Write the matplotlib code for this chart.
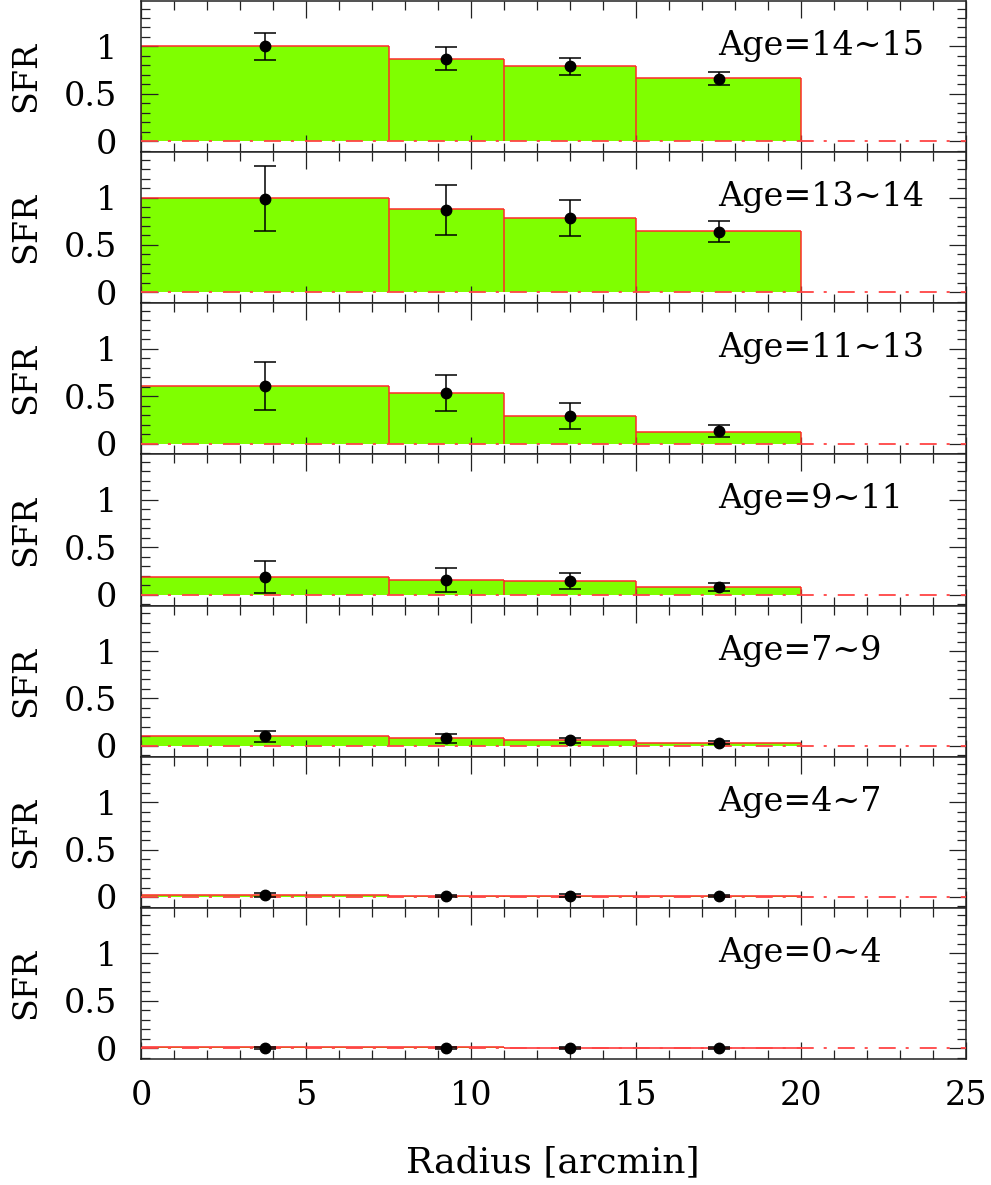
from __future__ import annotations

import matplotlib

matplotlib.use("Agg")

import matplotlib.pyplot as plt
import numpy as np
from matplotlib.ticker import FuncFormatter, MultipleLocator

# radial bins (arcmin) and their centres
bin_edges = [0.0, 7.5, 11.0, 15.0, 20.0]
radius_mid = [3.75, 9.25, 13.0, 17.5]

age_labels = ["Age=14~15", "Age=13~14", "Age=11~13", "Age=9~11", "Age=7~9", "Age=4~7", "Age=0~4"]

# model SFR per bin (histogram heights), one row per age slice
sfr_model = [
    [1.00, 0.87, 0.79, 0.665],
    [1.00, 0.875, 0.78, 0.645],
    [0.605, 0.53, 0.29, 0.125],
    [0.19, 0.155, 0.14, 0.08],
    [0.10, 0.08, 0.064, 0.03],
    [0.02, 0.008, 0.008, 0.006],
    [0.015, 0.01, 0.002, 0.001],
]

# measured SFR and 1-sigma errors
sfr_obs = [
    [1.00, 0.87, 0.79, 0.66],
    [0.99, 0.87, 0.78, 0.64],
    [0.61, 0.53, 0.29, 0.135],
    [0.19, 0.155, 0.14, 0.08],
    [0.10, 0.08, 0.057, 0.035],
    [0.025, 0.01, 0.012, 0.008],
    [0.005, 0.005, 0.005, 0.003],
]
sfr_err = [
    [0.14, 0.12, 0.09, 0.065],
    [0.34, 0.26, 0.19, 0.11],
    [0.255, 0.19, 0.135, 0.065],
    [0.17, 0.125, 0.085, 0.04],
    [0.055, 0.045, 0.03, 0.015],
    [0.02, 0.015, 0.015, 0.012],
    [0.012, 0.012, 0.012, 0.012],
]

FILL = "#7fff00"
EDGE = "#ff2a2a"
ZERO_LINE = "#ff4444"
FONT_SIZE = 24


def style_axes(ax, bottom: bool) -> None:
    ax.set_xlim(0, 25)
    ax.set_ylim(-0.115, 1.48)
    ax.xaxis.set_major_locator(MultipleLocator(5))
    ax.xaxis.set_minor_locator(MultipleLocator(1))
    ax.yaxis.set_major_locator(MultipleLocator(0.5))
    ax.yaxis.set_minor_locator(MultipleLocator(0.1))
    ax.yaxis.set_major_formatter(FuncFormatter(lambda v, _: f"{v:g}"))
    ax.tick_params(which="both", direction="in", top=True, right=True, width=0.9, color="#222222")
    ax.tick_params(which="major", length=12)
    ax.tick_params(which="minor", length=6.5)
    ax.tick_params(axis="y", which="major", pad=17, labelsize=FONT_SIZE)
    ax.tick_params(axis="x", which="major", pad=15, labelsize=FONT_SIZE, labelbottom=bottom)
    for spine in ax.spines.values():
        spine.set_linewidth(1.1)
        spine.set_color("#222222")


def draw_panel(ax, model: list[float], obs: list[float], err: list[float], label: str) -> None:
    edges = np.asarray(bin_edges)
    heights = np.asarray(model)
    widths = np.diff(edges)

    ax.bar(edges[:-1], heights, width=widths, align="edge", color=FILL, linewidth=0, zorder=1)

    # outline: tops plus full-height separators, no bottom edge
    ax.hlines(heights, edges[:-1], edges[1:], color=EDGE, linewidth=1.1, zorder=2)
    padded = np.concatenate([[0.0], heights, [0.0]])
    ax.vlines(edges, 0, np.maximum(padded[:-1], padded[1:]), color=EDGE, linewidth=1.1, zorder=2)

    ax.plot([0, 25], [0, 0], color=ZERO_LINE, linewidth=1.3, dashes=(9.4, 5.5, 1.7, 6.1), zorder=3)

    ax.errorbar(radius_mid, obs, yerr=err, fmt="o", color="black", markersize=7.5,
                elinewidth=1.1, capsize=8, capthick=1.1, zorder=4)

    ax.text(17.5, 0.91, label, fontsize=FONT_SIZE, ha="left", va="baseline")
    ax.text(-0.139, 0.5, "SFR", transform=ax.transAxes, rotation=90,
            fontsize=FONT_SIZE, ha="center", va="center")


def main() -> None:
    plt.rcParams["font.family"] = ["DejaVu Serif"]
    fig, axes = plt.subplots(len(age_labels), 1, figsize=(9.91, 11.85), dpi=100, sharex=True)
    fig.subplots_adjust(left=0.1423, right=0.9748, top=0.9992, bottom=0.1063, hspace=0)

    for i, ax in enumerate(axes):
        draw_panel(ax, sfr_model[i], sfr_obs[i], sfr_err[i], age_labels[i])
        style_axes(ax, bottom=(i == len(axes) - 1))

    fig.text(0.5578, 0.0105, "Radius [arcmin]", fontsize=26, ha="center", va="baseline")
    fig.savefig("out.png", dpi=100)


if __name__ == "__main__":
    main()
